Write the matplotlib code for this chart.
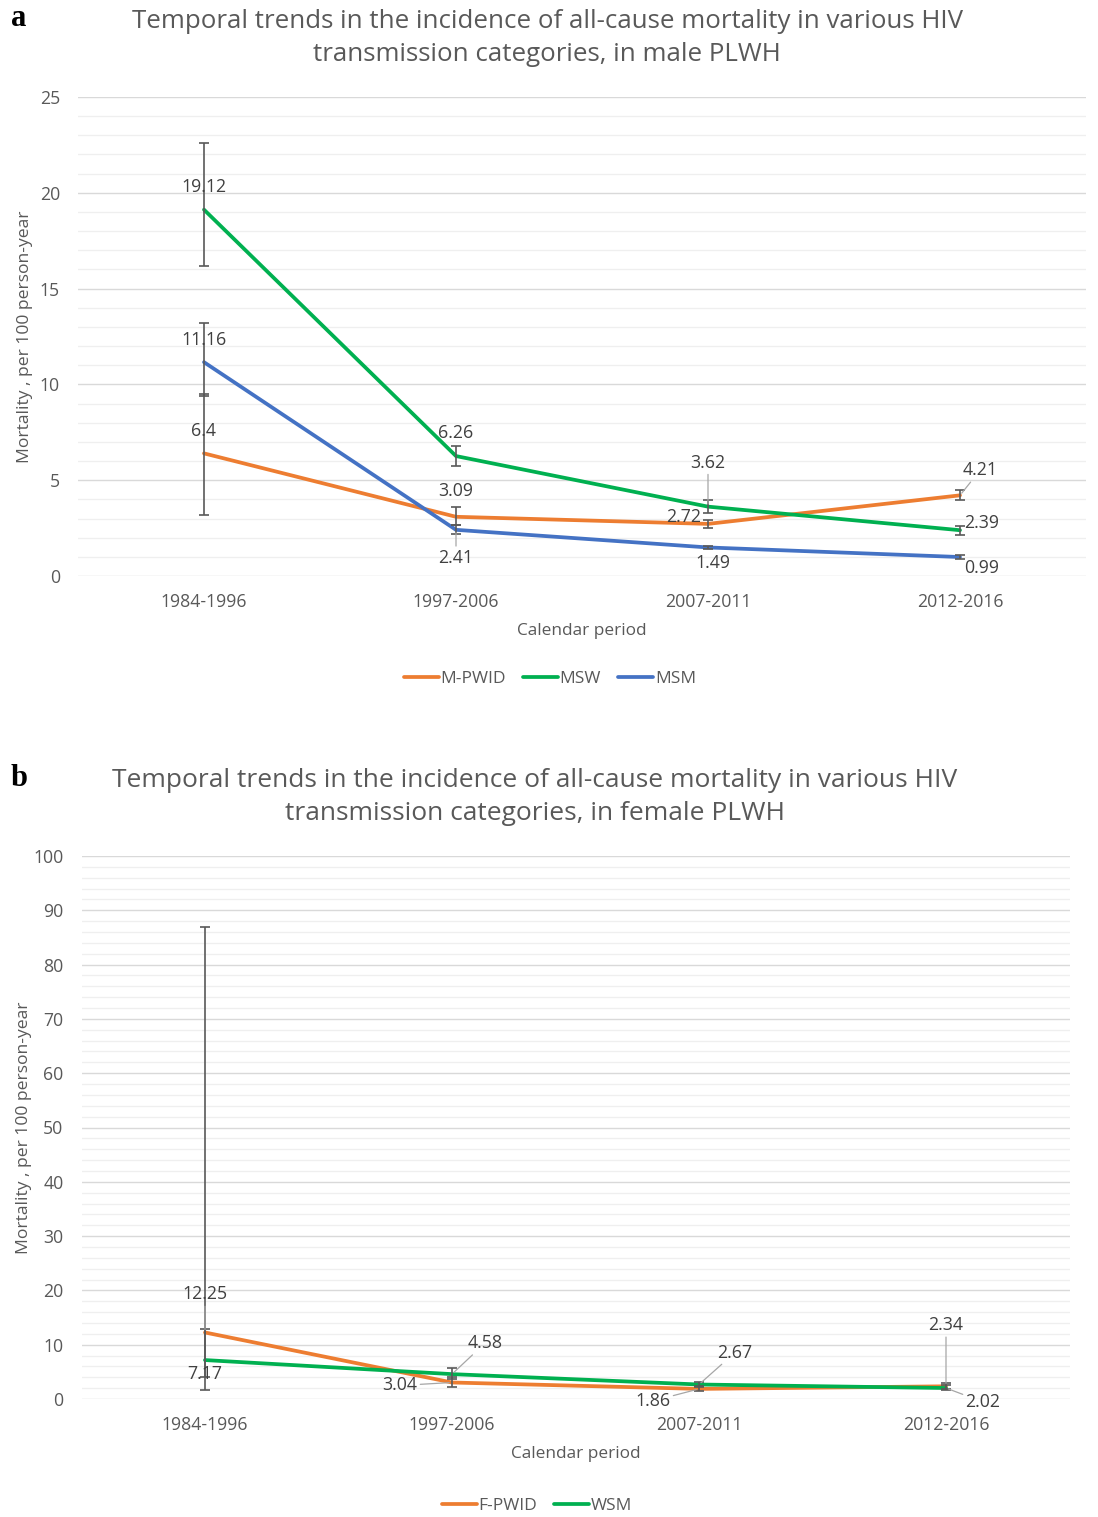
import numpy as np
import matplotlib
matplotlib.use('Agg')
import matplotlib.pyplot as plt
from matplotlib.ticker import MultipleLocator

plt.rcParams['font.family'] = ['Open Sans', 'DejaVu Sans']

periods = ['1984-1996', '1997-2006', '2007-2011', '2012-2016']

# panel a, male PLWH
m_pwid = [6.4, 3.09, 2.72, 4.21]
m_pwid_lo = [3.2, 2.65, 2.52, 3.98]
m_pwid_hi = [9.5, 3.6, 2.93, 4.48]
msw = [19.12, 6.26, 3.62, 2.39]
msw_lo = [16.2, 5.76, 3.27, 2.15]
msw_hi = [22.6, 6.8, 3.98, 2.62]
msm = [11.16, 2.41, 1.49, 0.99]
msm_lo = [9.4, 2.2, 1.4, 0.91]
msm_hi = [13.2, 2.66, 1.58, 1.08]

# panel b, female PLWH
f_pwid = [12.25, 3.04, 1.86, 2.34]
f_pwid_lo = [1.73, 2.3, 1.45, 1.9]
f_pwid_hi = [86.9, 4.0, 2.4, 2.9]
wsm = [7.17, 4.58, 2.67, 2.02]
wsm_lo = [4.0, 3.7, 2.2, 1.6]
wsm_hi = [12.9, 5.7, 3.2, 2.5]

ORANGE = '#ED7D31'
GREEN = '#00B050'
BLUE = '#4472C4'
GREY = '#595959'
TXT = '#404040'

W, H = 1098, 1517
fig = plt.figure(figsize=(W / 100, H / 100), dpi=100)


def px(x0, y0, x1, y1):
    # pixel box -> figure fraction rect
    return [x0 / W, 1 - y1 / H, (x1 - x0) / W, (y1 - y0) / H]


def style_axes(ax, ymax, major, minor):
    ax.set_xlim(-0.5, 3.5)
    ax.set_ylim(0, ymax)
    ax.yaxis.set_major_locator(MultipleLocator(major))
    ax.yaxis.set_minor_locator(MultipleLocator(minor))
    ax.set_xticks(range(len(periods)))
    ax.set_xticklabels(periods)
    for s in ax.spines.values():
        s.set_visible(False)
    ax.grid(axis='y', which='major', color='#D9D9D9', lw=1.0)
    ax.grid(axis='y', which='minor', color='#EFEFEF', lw=0.9)
    ax.set_axisbelow(True)
    ax.tick_params(axis='both', which='both', length=0, labelsize=12.7, colors=GREY)
    ax.tick_params(axis='y', pad=13)
    ax.tick_params(axis='x', pad=12)
    ax.set_xlabel('Calendar period', fontsize=12.4, color=GREY, labelpad=9)
    ax.set_ylabel('Mortality , per 100 person-year', fontsize=12.6, color=GREY)


def series(ax, vals, lo, hi, color, label):
    x = np.arange(len(vals))
    v = np.array(vals)
    line, = ax.plot(x, v, color=color, lw=2.7, label=label, zorder=3,
                    solid_capstyle='round')
    ax.errorbar(x, v, yerr=[v - np.array(lo), np.array(hi) - v], fmt='none',
                ecolor=GREY, elinewidth=1.2, capsize=3.5, capthick=1.2, zorder=4)
    return line


def label(ax, i, val, dx, dy, leader=False):
    kw = {}
    if leader:
        kw['arrowprops'] = dict(arrowstyle='-', color='#A6A6A6', lw=0.9,
                                shrinkA=0, shrinkB=2)
    ax.annotate(f'{val:g}', xy=(i, val), xytext=(dx * 0.72, dy * 0.72),
                textcoords='offset points', ha='center', va='center',
                fontsize=12.8, color=TXT, zorder=5, **kw)


# ---- panel a
ax1 = fig.add_axes(px(78, 97, 1086, 576))
style_axes(ax1, 25, 5, 1)
ax1.yaxis.set_label_coords(-0.045, 0.5)
h1 = [series(ax1, m_pwid, m_pwid_lo, m_pwid_hi, ORANGE, 'M-PWID'),
      series(ax1, msw, msw_lo, msw_hi, GREEN, 'MSW'),
      series(ax1, msm, msm_lo, msm_hi, BLUE, 'MSM')]

label(ax1, 0, msw[0], 0, 23)
label(ax1, 0, msm[0], 0, 22)
label(ax1, 0, m_pwid[0], 0, 22)
label(ax1, 1, msw[1], 0, 23)
label(ax1, 1, m_pwid[1], 0, 26)
label(ax1, 1, msm[1], 0, -28, leader=True)
label(ax1, 2, msw[2], 0, 44, leader=True)
label(ax1, 2, m_pwid[2], -24, 7)
label(ax1, 2, msm[2], 5, -16)
label(ax1, 3, m_pwid[3], 20, 25, leader=True)
label(ax1, 3, msw[3], 22, 7)
label(ax1, 3, msm[3], 22, -11)

fig.text(547 / W, 1 - 38 / H,
         'Temporal trends in the incidence of all-cause mortality in various HIV\n'
         'transmission categories, in male PLWH',
         ha='center', va='center', fontsize=18.6, color=GREY, linespacing=1.4)
fig.text(11 / W, 1 - 19 / H, 'a', fontsize=22, fontweight='bold',
         family='Liberation Serif', ha='left', va='center')
fig.legend(handles=h1, loc='center', bbox_to_anchor=(550 / W, 1 - 679 / H),
           ncol=3, frameon=False, fontsize=12.5, handlelength=2.0,
           handletextpad=0.1, columnspacing=1.0, labelcolor=GREY)

# ---- panel b
ax2 = fig.add_axes(px(81.5, 856, 1069.5, 1399))
style_axes(ax2, 100, 10, 2)
ax2.yaxis.set_label_coords(-0.05, 0.5)
h2 = [series(ax2, f_pwid, f_pwid_lo, f_pwid_hi, ORANGE, 'F-PWID'),
      series(ax2, wsm, wsm_lo, wsm_hi, GREEN, 'WSM')]

label(ax2, 0, f_pwid[0], 0, 38, leader=True)
label(ax2, 0, wsm[0], 0, -14)
label(ax2, 1, wsm[1], 33, 31, leader=True)
label(ax2, 1, f_pwid[1], -52, -3, leader=True)
label(ax2, 2, wsm[2], 36, 32, leader=True)
label(ax2, 2, f_pwid[2], -46, -12, leader=True)
label(ax2, 3, f_pwid[3], 0, 61, leader=True)
label(ax2, 3, wsm[3], 37, -14, leader=True)

fig.text(535 / W, 1 - 797 / H,
         'Temporal trends in the incidence of all-cause mortality in various HIV\n'
         'transmission categories, in female PLWH',
         ha='center', va='center', fontsize=19, color=GREY, linespacing=1.4)
fig.text(11 / W, 1 - 778 / H, 'b', fontsize=22, fontweight='bold',
         family='Liberation Serif', ha='left', va='center')
fig.legend(handles=h2, loc='center', bbox_to_anchor=(537 / W, 1 - 1506 / H),
           ncol=2, frameon=False, fontsize=12.5, handlelength=2.0,
           handletextpad=0.1, columnspacing=1.0, labelcolor=GREY)

fig.savefig('out.png', dpi=100, facecolor='white')
